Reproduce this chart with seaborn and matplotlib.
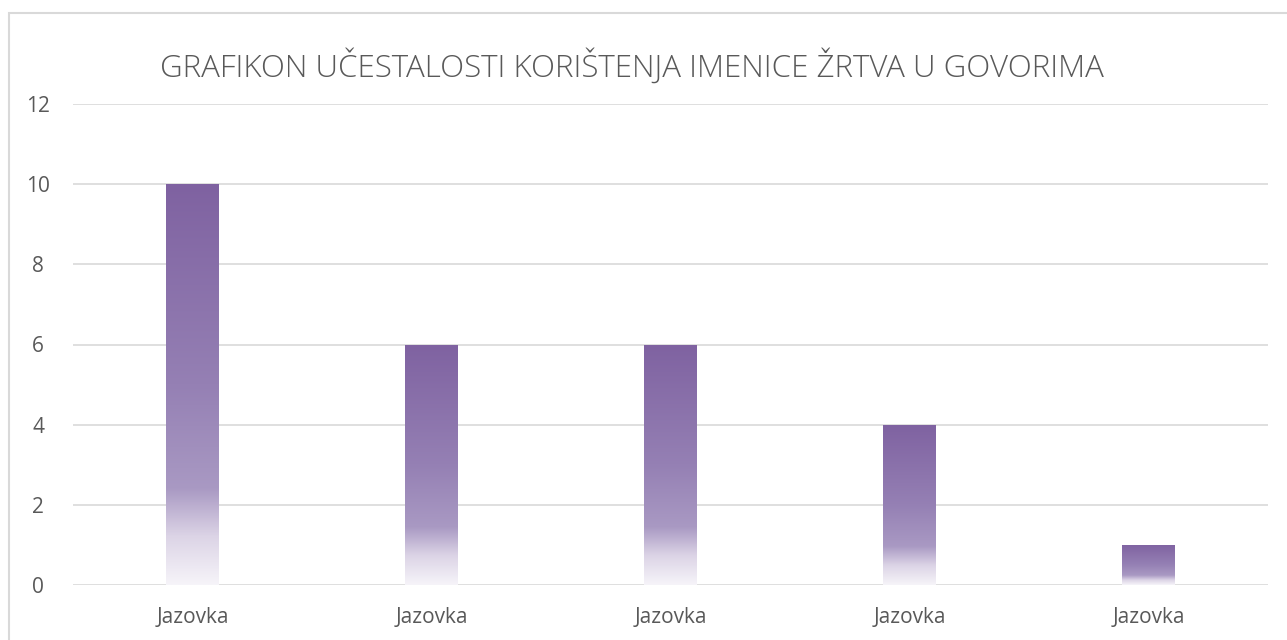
import numpy as np
import pandas as pd
import matplotlib
matplotlib.use("Agg")
import matplotlib.pyplot as plt
import seaborn as sns
from matplotlib.colors import LinearSegmentedColormap
from matplotlib.patches import Rectangle

# Data
labels = ["Jazovka", "Jazovka", "Jazovka", "Jazovka", "Jazovka"]
values = [10, 6, 6, 4, 1]
title = "GRAFIKON UČESTALOSTI KORIŠTENJA IMENICE ŽRTVA U GOVORIMA"

df = pd.DataFrame({"govor": [f"g{i}" for i in range(len(values))], "broj": values})

sns.set_style("white")
plt.rcParams["font.family"] = ["Open Sans", "DejaVu Sans"]

fig = plt.figure(figsize=(12.87, 6.4), dpi=100)
ax = fig.add_axes([73 / 1287, 55 / 640, 1195 / 1287, 481 / 640])

sns.barplot(data=df, x="govor", y="broj", width=0.22, color="#8064A2", ax=ax)

# Gradient fill inside each bar (top dark -> bottom almost white)
grad = LinearSegmentedColormap.from_list(
    "bar_grad",
    [(0.0, "#7F62A1"), (0.5, "#9580B4"), (0.76, "#A999C3"),
     (0.88, "#DCD4E6"), (1.0, "#F6F4F9")],
)
ramp = np.linspace(0, 1, 256).reshape(-1, 1)
for p in ax.patches:
    x0, y0 = p.get_x(), p.get_y()
    w, h = p.get_width(), p.get_height()
    p.set_facecolor("none")
    p.set_edgecolor("none")
    im = ax.imshow(ramp, cmap=grad, aspect="auto", origin="upper",
                   extent=[x0, x0 + w, y0, y0 + h], zorder=2)
    im.set_clip_path(p)

ax.set_xlim(-0.5, len(values) - 0.5)
ax.set_ylim(0, 12)
ax.set_yticks(range(0, 13, 2))
ax.set_xticks(range(len(values)))
ax.set_xticklabels(labels)
ax.set_xlabel("")
ax.set_ylabel("")

ax.grid(axis="y", color="#D9D9D9", linewidth=1.2)
ax.set_axisbelow(True)
sns.despine(ax=ax, left=True, bottom=True, top=True, right=True)
ax.tick_params(axis="both", length=0, labelsize=15, colors="#595959")
ax.tick_params(axis="y", pad=25)
ax.tick_params(axis="x", pad=16)
for t in ax.get_yticklabels():
    t.set_horizontalalignment("center")

fig.text(632 / 1287, 1 - 67 / 640, title, ha="center", va="center",
         fontsize=22.5, color="#595959", fontweight="light")

# chart border
fig.patches.append(Rectangle((8.5 / 1287, -0.1), 1.2, 1 - 12.5 / 640 + 0.1,
                             transform=fig.transFigure, fill=False,
                             edgecolor="#D9D9D9", linewidth=1.5))

fig.savefig("out.png", dpi=100)
